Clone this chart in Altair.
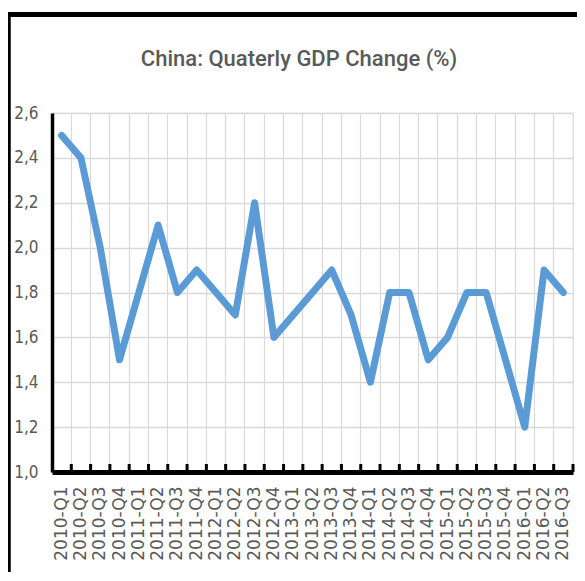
import altair as alt
import pandas as pd

quarters = [
    "2010-Q1", "2010-Q2", "2010-Q3", "2010-Q4",
    "2011-Q1", "2011-Q2", "2011-Q3", "2011-Q4",
    "2012-Q1", "2012-Q2", "2012-Q3", "2012-Q4",
    "2013-Q1", "2013-Q2", "2013-Q3", "2013-Q4",
    "2014-Q1", "2014-Q2", "2014-Q3", "2014-Q4",
    "2015-Q1", "2015-Q2", "2015-Q3", "2015-Q4",
    "2016-Q1", "2016-Q2", "2016-Q3",
]
gdp_change = [
    2.5, 2.4, 2.0, 1.5,
    1.8, 2.1, 1.8, 1.9,
    1.8, 1.7, 2.2, 1.6,
    1.7, 1.8, 1.9, 1.7,
    1.4, 1.8, 1.8, 1.5,
    1.6, 1.8, 1.8, 1.5,
    1.2, 1.9, 1.8,
]
y_ticks = [1.0, 1.2, 1.4, 1.6, 1.8, 2.0, 2.2, 2.4, 2.6]
chart_title = ["China: Quaterly GDP Change (%)"]

df = pd.DataFrame({"quarter": quarters, "value": gdp_change})

W, H = 521, 359
GRID = "#d9d9d9"
TXT = "#595959"
NARROW = "Liberation Sans Narrow, DejaVu Sans Condensed, Roboto, sans-serif"

x_enc = alt.X(
    "quarter:N",
    sort=quarters,
    title=None,
    scale=alt.Scale(paddingInner=0, paddingOuter=0),
    axis=alt.Axis(
        labelAngle=270,
        labelFont="DejaVu Sans",
        labelFontSize=17,
        labelColor=TXT,
        labelPadding=14,
        ticks=False,
        grid=True,
        gridColor=GRID,
        gridWidth=1.2,
        bandPosition=0,
        domainColor="black",
        domainWidth=5,
    ),
)
y_enc = alt.Y(
    "value:Q",
    title=None,
    scale=alt.Scale(domain=[1.0, 2.6], nice=False, zero=False),
    axis=alt.Axis(
        values=y_ticks,
        labelExpr="replace(format(datum.value, '.1f'), '.', ',')",
        labelFont=NARROW,
        labelFontSize=17,
        labelColor=TXT,
        labelPadding=14,
        ticks=False,
        grid=True,
        gridColor=GRID,
        gridWidth=1.5,
        domainColor="black",
        domainWidth=3.5,
    ),
)

line = alt.Chart(df).mark_line(
    color="#5B9BD5", strokeWidth=7, strokeCap="round", strokeJoin="round"
).encode(x=x_enc, y=y_enc)

ticks = alt.Chart(df).mark_rule(color="black", strokeWidth=3).encode(
    x=alt.X("quarter:N", sort=quarters, bandPosition=1),
    y=alt.value(H - 8),
    y2=alt.value(H),
)

one = pd.DataFrame({"k": [0]})
frame = alt.Chart(one).mark_rule(color="black", strokeWidth=3.5).encode(
    x=alt.value(-43), x2=alt.value(-43), y=alt.value(-101), y2=alt.value(H + 110)
)
frame_top = alt.Chart(one).mark_rule(color="black", strokeWidth=5).encode(
    x=alt.value(-45), x2=alt.value(W + 20), y=alt.value(-98.5), y2=alt.value(-98.5)
)

title = alt.Chart(pd.DataFrame({"t": chart_title})).mark_text(
    font="Roboto", fontSize=22, fontWeight=500, color=TXT, align="center", baseline="alphabetic"
).encode(text="t:N", x=alt.value(247), y=alt.value(-47))

chart = alt.layer(line, ticks, frame, frame_top, title).properties(
    width=W,
    height=H,
    autosize=alt.AutoSizeParams(type="none"),
    padding={"left": 44, "top": 105, "right": 4, "bottom": 100},
).configure_view(stroke=GRID, strokeWidth=1.2)

chart.save("out.html", embed_options={"renderer": "svg", "actions": False})
